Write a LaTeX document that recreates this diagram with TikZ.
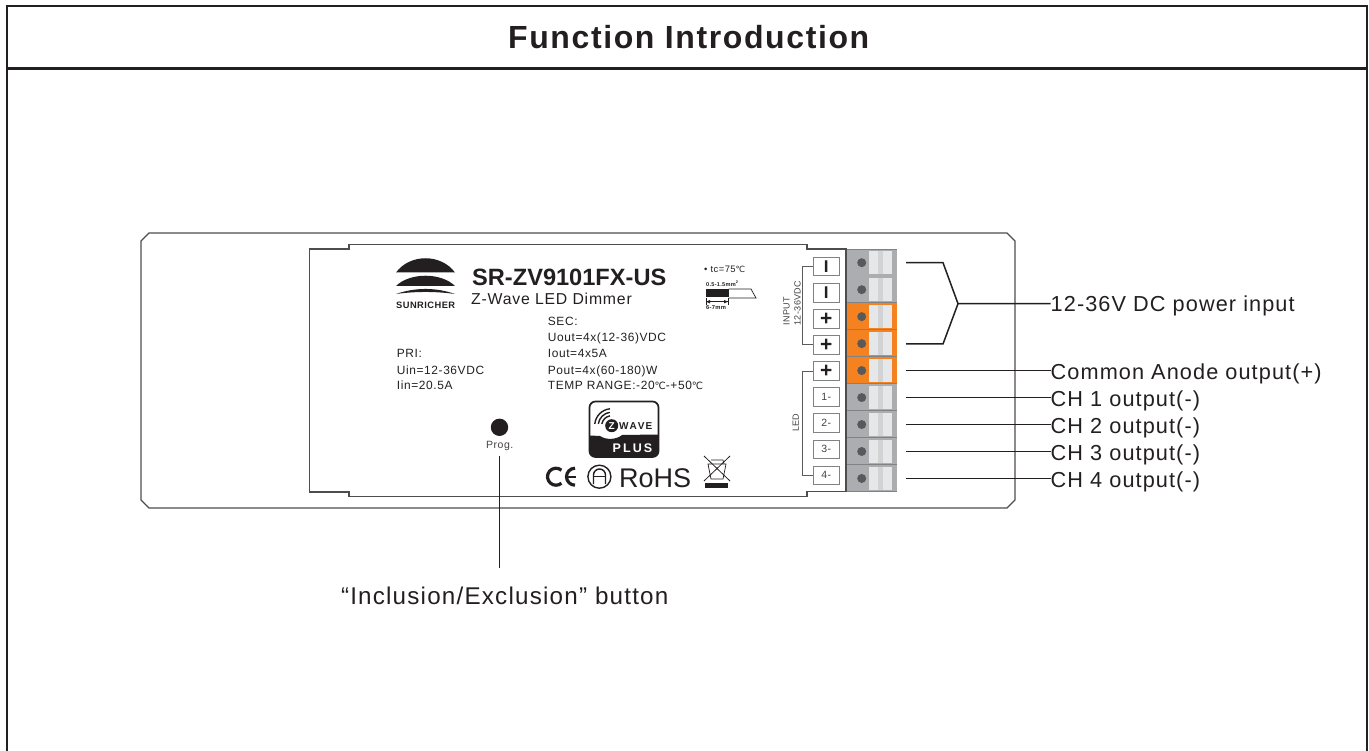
\documentclass[tikz,border=0pt]{standalone}
\usepackage{fontspec}
\setmainfont[LetterSpace=5]{Liberation Sans}
\newfontfamily\plainfont{Liberation Sans}
\newfontfamily\symfont{DejaVu Sans}
\usetikzlibrary{positioning}
\newcommand{\fs}[1]{\fontsize{#1}{#1}\selectfont}
\newcommand{\degc}{{\symfont\fontsize{10}{10}\selectfont\char"2103}}
\definecolor{ink}{HTML}{231F20}
\definecolor{midgrey}{HTML}{808285}
\definecolor{termgrey}{HTML}{ABADB0}
\definecolor{termorange}{HTML}{F58220}
\definecolor{dotgrey}{HTML}{58595B}
\definecolor{striplight}{HTML}{E6E7E8}
\definecolor{stripmid}{HTML}{D1D3D4}
\begin{document}
\begin{tikzpicture}[
  x=1pt,y=-1pt,
  txt/.style={anchor=base west,inner sep=0pt,text=ink},
  spec/.style={txt,font=\fs{11.95}},
  callout/.style={txt,font=\fs{21.7}},
  tbox/.style={draw=midgrey,line width=0.9pt,fill=white,inner sep=0pt,
    minimum width=25.5pt,minimum height=18.5pt,text=ink},
  wire/.style={draw=ink,line width=1.5pt},
  bracket/.style={draw=midgrey!70!black,line width=1pt},
  outline/.style={draw=ink!80,line width=1.2pt}
]
\useasboundingbox (0,0) rectangle (1369,751);

% frame and title
\draw[ink,line width=2.6pt] (7,751) -- (7,6) -- (1367,6) -- (1367,751);
\draw[ink,line width=2.6pt] (7,68.3) -- (1367,68.3);
\node[txt,font=\fs{32}\bfseries] (title) at (508,49) {Function Introduction};

% housing
\draw[outline] (149,233) -- (1007,233) -- (1015,241) -- (1015,500) -- (1007,508)
  -- (149,508) -- (141,500) -- (141,241) -- cycle;
\draw[outline] (309.5,249) -- (349,249) -- (349,244.5) -- (807,244.5) -- (807,249)
  -- (846,249) -- (846,491.5) -- (807,491.5) -- (807,496.5) -- (349,496.5)
  -- (349,492) -- (309.5,492) -- cycle;

% terminal block
\foreach \i in {1,...,9}{
  \pgfmathsetmacro{\ytop}{249+26.97*(\i-1)}
  \pgfmathsetmacro{\ybot}{\ytop+26.97}
  \pgfmathsetmacro{\ybox}{266.7+26.08*(\i-1)}
  \ifnum\i>2 \ifnum\i<6 \def\tcol{termorange}\else\def\tcol{termgrey}\fi\else\def\tcol{termgrey}\fi
  \fill[\tcol] (846.5,\ytop) rectangle (897,\ybot);
  \fill[striplight] (869,\ytop+2) rectangle (892,\ybot-2);
  \fill[stripmid] (877.7,\ytop+2) rectangle (882.7,\ybot-2);
  \draw[midgrey,line width=0.9pt] (846.5,\ybot) -- (897,\ybot);
  \node[circle,fill=dotgrey,inner sep=0pt,minimum size=9pt] (s\i) at (861.7,\ytop+13.7) {};
  \node[tbox] (t\i) at (826.2,\ybox) {};
}
\draw[midgrey,line width=0.9pt] (846.5,249) -- (897,249);
\node[font=\fs{17}\bfseries\plainfont,text=ink] (tl1) at (t1) {I};
\node[font=\fs{17}\bfseries\plainfont,text=ink] (tl2) at (t2) {I};
\foreach \i in {3,4,5}
  \node[font=\fs{21}\bfseries\plainfont,text=ink] (tl\i) at (t\i) {+};
\foreach \i/\n in {6/1,7/2,8/3,9/4}
  \node[font=\fs{10.5},text=ink!85] (tl\i) at (t\i) {\n-};

\draw[bracket] (t1.west) -- ++(-11,0) |- (t4.west);
\draw[bracket] (t5.west) -- ++(-11,0) |- (t9.west);
\node[rotate=90,anchor=base west,inner sep=0pt,font=\fs{9},text=ink!85] (inp) at (789.5,326) {INPUT};
\node[rotate=90,anchor=base west,inner sep=0pt,font=\fs{9},text=ink!85] (inpv) at (800.5,326) {12-36VDC};
\node[rotate=90,font=\fs{9},text=ink!85] (led) at (795.7,422.7) {LED};

% logo and model
\fill[ink] (396,272.5) .. controls (410,253.5) and (441,253.5) .. (455,272.5) -- cycle;
\fill[ink] (396,286) .. controls (410,272.3) and (441,272.3) .. (455,286) -- cycle;
\fill[ink] (396,294) .. controls (415,287.3) and (436,287.3) .. (455,294)
  .. controls (436,291.3) and (415,291.3) .. (396,294) -- cycle;
\node[txt,font=\fs{9.3}\bfseries] (brand) at (396,309) {SUNRICHER};
\node[txt,font=\plainfont\fs{23.6}\bfseries] (model) at (472,286) {SR-ZV9101FX-US};
\node[txt,font=\fs{15.8}] (desc) at (471,305) {Z-Wave LED Dimmer};

% spec text
\node[spec] (pri) at (396.7,358) {PRI:};
\node[spec] (uin) at (396.7,374) {Uin=12-36VDC};
\node[spec] (iin) at (396.7,390) {Iin=20.5A};
\node[spec] (sec) at (547.7,326) {SEC:};
\node[spec] (uout) at (547.7,342) {Uout=4x(12-36)VDC};
\node[spec] (iout) at (547.7,358) {Iout=4x5A};
\node[spec] (pout) at (547.7,374) {Pout=4x(60-180)W};
\node[spec] (temp) at (547.7,390) {TEMP RANGE:-20\degc-+50\degc};

% wire strip sketch
\node[txt,font=\fs{9.4}] (tc) at (704,273) {{\plainfont\textbullet} tc=75{\symfont\fs{8.5}\char"2103}};
\node[txt,font=\fs{5.6}\bfseries] (gauge) at (706,286.5) {0.5-1.5mm$^{\mathbf 2}$};
\fill[ink] (705.5,289.5) rectangle (728.5,297);
\draw[ink,line width=0.7pt] (728.5,289) -- (751,289) -- (756,298) -- (728.5,298);
\draw[ink,line width=0.7pt,|-|] (705.5,301.7) -- (728.5,301.7);
\fill[ink] (706,301.7) -- (710,300) -- (710,303.4) -- cycle;
\fill[ink] (728,301.7) -- (724,300) -- (724,303.4) -- cycle;
\node[txt,font=\fs{5.8}\bfseries] (strip) at (706,310) {6-7mm};

% prog button
\node[circle,fill=ink,inner sep=0pt,minimum size=17.4pt] (btn) at (499.5,427.3) {};
\node[txt,font=\fs{10.5},text=ink!85] (prog) at (486,449) {Prog.};

% z-wave mark
\fill[ink] (590,435.5) -- (600,436) .. controls (606,440) and (616,440) .. (622,435) -- (658,434.5)
  -- (658,451) arc (0:90:6) -- (596,457) arc (90:180:6) -- cycle;
\draw[ink,line width=1.7pt,rounded corners=6pt] (589.5,401.5) rectangle (658.5,457);
\node[circle,fill=ink,inner sep=0pt,minimum size=13pt,text=white,font=\fs{10}\bfseries\plainfont] (zc) at (611.7,425.7) {Z};
\node[txt,font=\fs{10}\bfseries] (zw) at (619,429.5) {W\kern1pt A\kern1pt V\kern1pt E};
\node[txt,font=\fs{12.5}\bfseries,text=white] (plus) at (612.5,453) {P\,L\,U\,S};
\draw[ink,line width=1.4pt] (zc.center) ++(-100:10) arc (-100:-170:10);
\draw[ink,line width=1.4pt] (zc.center) ++(-98:13.5) arc (-98:-172:13.5);
\draw[ink,line width=1.4pt] (zc.center) ++(-96:17) arc (-96:-174:17);

% approval marks
\draw[ink,line width=3.2pt] (556,476.7) ++(-50:8.5) arc (-50:-310:8.5);
\draw[ink,line width=3.2pt] (575,468.2) arc (-90:-270:8.5);
\draw[ink,line width=2.2pt] (567,476.7) -- (576,476.7);
\draw[ink,line width=1.4pt] (599.4,476.7) circle (11.5);
\draw[ink,line width=1.4pt] (593.5,484) -- (593.5,475) arc (-180:0:6) -- (605.5,484);
\draw[ink,line width=1.4pt] (593.5,476.5) -- (605.5,476.5);
\node[txt,font=\plainfont\fs{27}] (rohs) at (619,487.3) {RoHS};
\draw[ink,line width=0.8pt] (704,456) -- (730,481);
\draw[ink,line width=0.8pt] (730,456) -- (704,481);
\draw[ink,line width=0.7pt] (708,464) -- (726,464) -- (723,479) -- (711,479) -- cycle;
\draw[ink,line width=0.7pt] (711,460) -- (723,460) -- (724,464);
\fill[ink] (705,483) rectangle (728,487.7);

% callouts
\node[callout] (lpow) at (1050.5,311.5) {12-36V DC power input};
\node[callout] (lcom) at (1050.5,380) {Common Anode output(+)};
\node[callout] (lch1) at (1050.5,406.5) {CH 1 output(-)};
\node[callout] (lch2) at (1050.5,433.5) {CH 2 output(-)};
\node[callout] (lch3) at (1050.5,460.5) {CH 3 output(-)};
\node[callout] (lch4) at (1050.5,487.5) {CH 4 output(-)};
\node[txt,font=\fs{24.2}] (lincl) at (341,604) {“\kern1pt Inclusion/Exclusion” button};

\coordinate (wtop) at (906,262.7);
\coordinate (wbot) at (906,344);
\coordinate (wmid) at (958,303.7);
\draw[wire] (wtop) -- ++(37,0) -- (wmid) -- (wmid -| lpow.west);
\draw[wire] (wbot) -- ++(37,0) -- (wmid);
\foreach \i/\l in {5/lcom,6/lch1,7/lch2,8/lch3,9/lch4}{
  \coordinate (w\i) at (906,262.7+26.97*\i-26.97);
  \draw[wire] (w\i) -- (w\i -| \l.west);
}
\coordinate (progend) at (499.5,455.7);
\coordinate (inclend) at (499.5,567.7);
\draw[wire] (progend) -- (inclend);

\end{tikzpicture}
\end{document}
